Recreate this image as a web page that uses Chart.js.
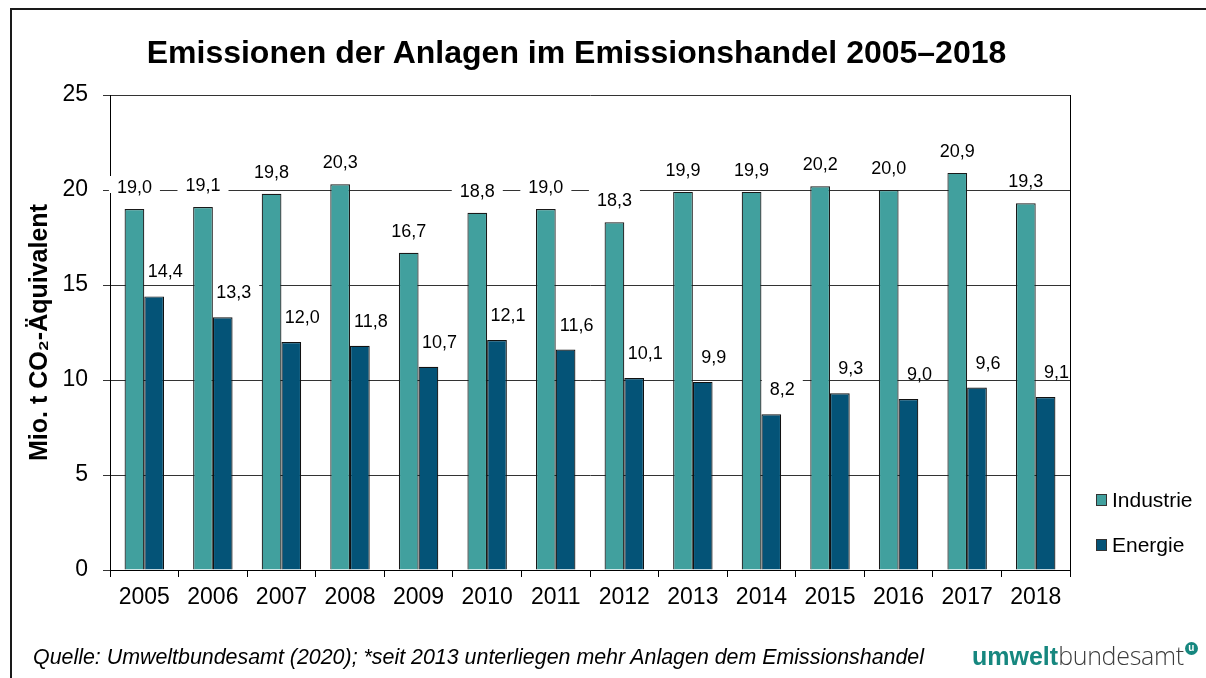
<!DOCTYPE html>
<html lang="de">
<head>
    <meta charset="UTF-8">
    <title>Emissionen der Anlagen im Emissionshandel 2005–2018</title>
    <script src="https://cdn.jsdelivr.net/npm/chart.js"></script>
    <style>
        html, body { margin: 0; padding: 0; background: #fff; }
        body { width: 1206px; height: 678px; position: relative; overflow: hidden; font-family: "Liberation Sans", Arial, sans-serif; }
        .frame { position: absolute; left: 10px; top: 8px; right: -4px; bottom: -4px; border-left: 2px solid #1a1a1a; border-top: 2px solid #1a1a1a; }
        .chart-box { position: absolute; left: 0; top: 0; width: 1206px; height: 678px; }
        .title { position: absolute; left: 0; width: 1153px; top: 33px; text-align: center; font-weight: bold; font-size: 32px; line-height: 38px; color: #000; }
        .source { position: absolute; left: 33px; top: 644px; font-style: italic; font-size: 21.4px; line-height: 26px; color: #000; white-space: nowrap; }
        .logo { position: absolute; left: 972px; top: 640px; font-size: 25px; white-space: nowrap; line-height: 30px; }
        .logo .u1 { color: #16877f; font-weight: bold; }
        .logo .u2 { color: #3c3c3c; font-family: "Open Sans", "DejaVu Sans", sans-serif; font-weight: 300; letter-spacing: -0.3px; }
        .logo .dot { display: inline-block; width: 13px; height: 13px; border-radius: 50%; background: #16877f; color: #fff; font-size: 10px; font-weight: bold; line-height: 12px; text-align: center; vertical-align: 14px; margin-left: 1px; }
    </style>
</head>
<body>
    <div class="frame"></div>
    <div class="chart-box"><canvas id="emissionChart" width="1206" height="678"></canvas></div>
    <div class="title">Emissionen der Anlagen im Emissionshandel 2005–2018</div>
    <div class="source">Quelle: Umweltbundesamt (2020); *seit 2013 unterliegen mehr Anlagen dem Emissionshandel</div>
    <div class="logo"><span class="u1">umwelt</span><span class="u2">bundesamt</span><span class="dot">u</span></div>

    <script>
        const years = ['2005', '2006', '2007', '2008', '2009', '2010', '2011', '2012', '2013', '2014', '2015', '2016', '2017', '2018'];
        const industrie = [19.0, 19.1, 19.8, 20.3, 16.7, 18.8, 19.0, 18.3, 19.9, 19.9, 20.2, 20.0, 20.9, 19.3];
        const energie = [14.4, 13.3, 12.0, 11.8, 10.7, 12.1, 11.6, 10.1, 9.9, 8.2, 9.3, 9.0, 9.6, 9.1];
        const yTicks = [0, 5, 10, 15, 20, 25];

        const colorIndustrie = '#41a09e';
        const colorEnergie = '#045377';
        const fontFamily = '"Liberation Sans", Arial, sans-serif';

        const fmt = v => v.toFixed(1).replace('.', ',');

        // value labels: white box behind text, Energie labels shifted a little to the right
        const labelOffsets = [{ dx: 0, dy: 21 }, { dx: 11, dy: 24 }];

        function eachLabel(chart, fn) {
            chart.data.datasets.forEach((ds, i) => {
                const meta = chart.getDatasetMeta(i);
                meta.data.forEach((bar, j) => {
                    fn(fmt(ds.data[j]), bar.x + labelOffsets[i].dx, bar.y - labelOffsets[i].dy);
                });
            });
        }

        const labelPlugin = {
            id: 'labels',
            beforeDatasetsDraw(chart) {
                const ctx = chart.ctx;
                const area = chart.chartArea;
                ctx.save();
                ctx.font = '18px ' + fontFamily;
                ctx.fillStyle = '#fff';
                eachLabel(chart, (text, x, y) => {
                    const w = ctx.measureText(text).width + 16;
                    ctx.fillRect(x - w / 2, y - 12, w, 17);
                });

                // right edge of the plot frame
                ctx.strokeStyle = '#000';
                ctx.lineWidth = 1;
                ctx.beginPath();
                ctx.moveTo(Math.round(area.right) + 0.5, area.top);
                ctx.lineTo(Math.round(area.right) + 0.5, area.bottom);
                ctx.stroke();
                ctx.restore();
            },
            afterDatasetsDraw(chart) {
                const ctx = chart.ctx;
                const area = chart.chartArea;
                ctx.save();
                ctx.font = '18px ' + fontFamily;
                ctx.fillStyle = '#000';
                ctx.textAlign = 'center';
                ctx.textBaseline = 'middle';
                eachLabel(chart, (text, x, y) => ctx.fillText(text, x, y));

                // legend at the lower right
                ctx.font = '21px ' + fontFamily;
                ctx.textAlign = 'left';
                const items = [[chart.data.datasets[0], area.bottom - 70], [chart.data.datasets[1], area.bottom - 25]];
                items.forEach(([ds, y]) => {
                    const x = area.right + 26;
                    ctx.fillStyle = ds.backgroundColor;
                    ctx.fillRect(x, y - 6, 11, 12);
                    ctx.strokeStyle = '#333';
                    ctx.lineWidth = 1;
                    ctx.strokeRect(x + 0.5, y - 6 + 0.5, 10, 11);
                    ctx.fillStyle = '#000';
                    ctx.fillText(ds.label, x + 16, y + 1);
                });
                ctx.restore();
            }
        };

        new Chart(document.getElementById('emissionChart'), {
            type: 'bar',
            data: {
                labels: years,
                datasets: [
                    {
                        label: 'Industrie',
                        data: industrie,
                        backgroundColor: colorIndustrie,
                        borderColor: '#1a1a1a',
                        borderWidth: 1.2,
                        categoryPercentage: 0.575,
                        barPercentage: 1.0
                    },
                    {
                        label: 'Energie',
                        data: energie,
                        backgroundColor: colorEnergie,
                        borderColor: '#111',
                        borderWidth: 1.2,
                        categoryPercentage: 0.575,
                        barPercentage: 1.0
                    }
                ]
            },
            options: {
                responsive: false,
                animation: false,
                layout: {
                    padding: { left: 10, right: 136, top: 95, bottom: 0 }
                },
                plugins: {
                    legend: { display: false },
                    title: { display: false },
                    tooltip: { enabled: false }
                },
                scales: {
                    x: {
                        grid: {
                            offset: true,
                            drawOnChartArea: false,
                            drawTicks: true,
                            tickLength: 7,
                            color: '#000'
                        },
                        border: { display: true, color: '#000', width: 1 },
                        ticks: {
                            color: '#000',
                            padding: 7,
                            maxRotation: 0,
                            font: { family: fontFamily, size: 23 }
                        },
                        afterFit(scale) { scale.height = 108; }
                    },
                    y: {
                        min: 0,
                        max: 25,
                        afterBuildTicks(scale) { scale.ticks = yTicks.map(v => ({ value: v })); },
                        grid: {
                            color: '#333',
                            lineWidth: 1,
                            drawTicks: true,
                            tickLength: 7
                        },
                        border: { display: true, color: '#000', width: 1 },
                        ticks: {
                            color: '#000',
                            padding: 15,
                            font: { family: fontFamily, size: 23 }
                        },
                        title: {
                            display: true,
                            text: 'Mio. t CO₂-Äquivalent',
                            color: '#000',
                            padding: { top: 15, bottom: 0 },
                            font: { family: fontFamily, size: 25, weight: 'bold' }
                        },
                        afterFit(scale) { scale.width = 100; }
                    }
                }
            },
            plugins: [labelPlugin]
        });
    </script>
</body>
</html>
